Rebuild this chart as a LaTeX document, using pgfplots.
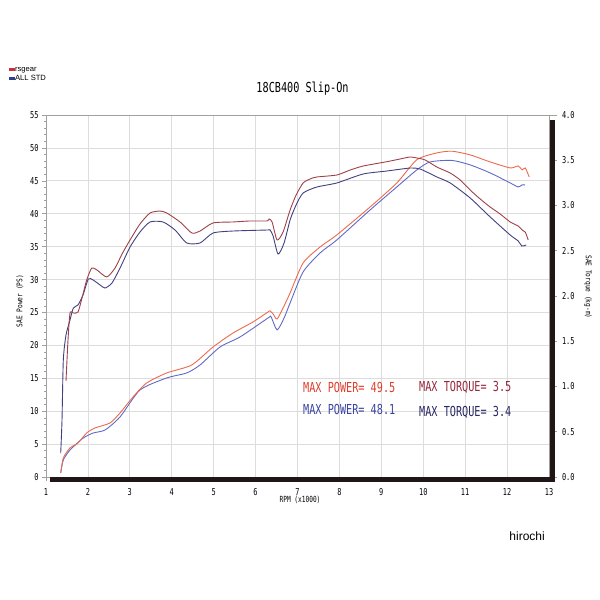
\documentclass[border=0pt]{standalone}
\usepackage{pgfplots}
\pgfplotsset{compat=1.18}
\usepackage{fontspec}
\setmainfont{Liberation Sans}
\newfontfamily\jmono{DejaVu Sans Mono}
\usepackage{graphicx}
\definecolor{rsP}{RGB}{236,106,76}
\definecolor{rsT}{RGB}{158,64,74}
\definecolor{stP}{RGB}{96,106,198}
\definecolor{stT}{RGB}{66,64,128}
\definecolor{gridc}{RGB}{220,220,220}
\definecolor{framec}{RGB}{160,160,160}
\definecolor{shadowc}{RGB}{32,22,22}
\definecolor{legR}{RGB}{205,45,60}
\definecolor{legB}{RGB}{45,60,150}
\definecolor{txtRP}{RGB}{222,62,44}
\definecolor{txtRT}{RGB}{150,40,60}
\definecolor{txtBP}{RGB}{58,68,160}
\definecolor{txtBT}{RGB}{40,40,100}
\newcommand\tl[1]{\scalebox{0.95}[1.3]{#1}}
\newcommand\bigtxt[1]{\scalebox{1}[1.35]{\jmono\fontsize{10.2}{12}\selectfont #1}}

\pgfplotstableread{
rpm T
1.477 1.061
1.525 1.514
1.573 1.812
1.652 1.812
1.764 1.823
1.859 1.978
1.971 2.177
2.091 2.309
2.217 2.287
2.449 2.210
2.647 2.309
2.814 2.464
3.005 2.619
3.243 2.796
3.482 2.917
3.721 2.939
3.881 2.917
4.198 2.818
4.477 2.696
4.675 2.718
4.986 2.807
5.463 2.818
5.869 2.829
6.274 2.829
6.322 2.851
6.394 2.818
6.513 2.619
6.656 2.707
6.823 2.950
6.967 3.116
7.134 3.249
7.301 3.293
7.461 3.315
7.938 3.337
8.256 3.392
8.566 3.436
9.131 3.484
9.449 3.514
9.687 3.536
9.847 3.525
10.045 3.503
10.325 3.425
10.642 3.359
10.881 3.282
11.119 3.171
11.358 3.072
11.597 2.983
11.835 2.906
12.074 2.818
12.265 2.773
12.360 2.729
12.432 2.707
12.504 2.619
}\rsTorque

\pgfplotstableread{
rpm T
1.351 0.265
1.382 0.630
1.413 1.293
1.477 1.569
1.573 1.735
1.652 1.867
1.764 1.901
1.883 2.011
2.010 2.188
2.122 2.177
2.289 2.122
2.408 2.088
2.575 2.144
2.766 2.309
3.005 2.541
3.243 2.707
3.482 2.818
3.792 2.818
4.079 2.729
4.358 2.586
4.675 2.586
4.986 2.696
5.463 2.718
6.274 2.729
6.346 2.729
6.418 2.663
6.537 2.464
6.680 2.586
6.823 2.840
6.967 3.006
7.134 3.138
7.461 3.204
7.938 3.249
8.566 3.348
9.131 3.381
9.687 3.414
9.926 3.403
10.325 3.315
10.642 3.249
11.119 3.083
11.597 2.873
12.074 2.674
12.265 2.608
12.353 2.552
12.456 2.564
}\stdTorque

\pgfplotstableread{
rpm P
1.351 0.61
1.413 2.89
1.573 4.41
1.764 5.17
1.971 6.69
2.169 7.45
2.527 8.21
2.766 9.73
3.076 12.16
3.403 14.29
3.881 15.81
4.477 17.02
4.986 19.76
5.463 21.88
5.940 23.56
6.298 25.08
6.346 25.23
6.418 24.77
6.513 24.01
6.656 25.68
6.823 27.96
7.134 32.52
7.539 34.95
7.938 36.78
8.733 41.03
9.370 44.68
9.847 48.20
10.325 49.24
10.683 49.50
11.119 48.94
11.597 47.87
12.074 46.96
12.265 47.26
12.360 46.66
12.432 46.96
12.528 45.59
}\rsPower

\pgfplotstableread{
rpm P
1.351 0.61
1.413 2.58
1.573 4.10
1.890 5.93
2.129 6.69
2.408 7.14
2.766 9.12
3.243 13.22
3.881 15.05
4.358 15.81
4.675 17.02
5.153 19.76
5.630 21.28
6.298 24.16
6.370 24.32
6.513 22.34
6.680 24.16
6.823 26.44
7.134 31.16
7.539 34.04
7.938 36.02
8.733 40.58
9.370 44.07
9.847 46.66
10.165 47.87
10.683 48.10
11.119 47.42
11.597 46.20
12.074 44.68
12.265 44.07
12.360 44.38
12.432 44.38
}\stdPower

\begin{document}
\begin{tikzpicture}[x=1pt,y=1pt]
\path[use as bounding box] (0,0) rectangle (600,600);
\begin{axis}[
  at={(46pt,123pt)}, anchor=south west,
  scale only axis, width=503pt, height=362pt,
  xmin=1, xmax=13, ymin=0, ymax=55,
  xtick={1,...,13}, ytick={0,5,...,55},
  xtick pos=bottom, ytick pos=left,
  minor x tick num=4, minor y tick num=4,
  grid=major, major grid style={gridc, line width=0.8pt},
  axis line style={framec, line width=0.6pt},
  tick style={framec, line width=0.5pt},
  tick align=outside, major tick length=4pt, minor tick length=2pt,
  /pgf/number format/assume math mode=true,
  ticklabel style={font=\jmono\fontsize{7.3}{8}\selectfont, black},
  xticklabel={\tl{\pgfmathprintnumber{\tick}}},
  yticklabel={\tl{\pgfmathprintnumber{\tick}}},
  xticklabel style={yshift=-4pt},
  xlabel={\tl{RPM (x1000)}},
  xlabel style={font=\jmono\fontsize{6.5}{8}\selectfont, at={(axis description cs:0.505,-0.0635)}, anchor=center},
  ylabel={\scalebox{0.95}[1.2]{SAE Power (PS)}},
  ylabel style={font=\jmono\fontsize{6.5}{8}\selectfont, at={(axis description cs:-0.052,0.486)}, anchor=center},
  title={\bigtxt{18CB400 Slip-On}},
  title style={at={(axis description cs:0.51,1.055)}, anchor=center},
  legend style={at={(axis description cs:-0.0735,1.138)}, anchor=north west, draw=none, fill=none,
    font=\fontsize{7.6}{9}\selectfont, row sep=1pt, inner sep=0pt,
    nodes={inner sep=0.5pt, text height=5.6pt, text depth=1.4pt}},
  legend cell align=left,
  legend image code/.code={\fill (0pt,-0.9pt) rectangle (2.0pt,1.1pt); \fill (3.0pt,-0.9pt) rectangle (5.0pt,1.1pt);},
]
\addlegendimage{legR}
\addlegendimage{legB}
\addplot[stP, line width=0.9pt, smooth, tension=0.4, forget plot] table[x=rpm, y=P] {\stdPower};
\addplot[rsP, line width=0.9pt, smooth, tension=0.4, forget plot] table[x=rpm, y=P] {\rsPower};
\legend{rsgear, ALL STD}
\end{axis}
\begin{axis}[
  at={(46pt,123pt)}, anchor=south west,
  scale only axis, width=503pt, height=362pt,
  xmin=1, xmax=13, ymin=0, ymax=4,
  axis x line=none, axis y line*=right,
  ytick={0,0.5,...,4}, minor y tick num=4,
  axis line style={framec, line width=0.6pt},
  tick style={framec, line width=0.5pt},
  tick align=outside, major tick length=8pt, minor tick length=2pt,
  /pgf/number format/assume math mode=true,
  ticklabel style={font=\jmono\fontsize{7.3}{8}\selectfont, black},
  yticklabel={\tl{\pgfmathprintnumber[fixed,fixed zerofill,precision=1]{\tick}}},
  yticklabel style={xshift=1.5pt},
  ylabel={\scalebox{0.95}[1.2]{SAE Torque (kg-m)}},
  ylabel style={font=\jmono\fontsize{6.5}{8}\selectfont, at={(axis description cs:1.0775,0.525)}, anchor=center, rotate=180},
]
\addplot[stT, line width=0.9pt, smooth, tension=0.4] table[x=rpm, y=T] {\stdTorque};
\addplot[rsT, line width=0.9pt, smooth, tension=0.4] table[x=rpm, y=T] {\rsTorque};
\end{axis}
\fill[shadowc] (50,117.5) rectangle (555,122.6);
\fill[shadowc] (549.8,117.5) rectangle (555,480);
\node[anchor=west, text=txtRP, inner sep=0pt] at (303,213) {\bigtxt{MAX POWER= 49.5}};
\node[anchor=west, text=txtRT, inner sep=0pt] at (419,213) {\bigtxt{MAX TORQUE= 3.5}};
\node[anchor=west, text=txtBP, inner sep=0pt] at (303,191) {\bigtxt{MAX POWER= 48.1}};
\node[anchor=west, text=txtBT, inner sep=0pt] at (419,188) {\bigtxt{MAX TORQUE= 3.4}};
\node[anchor=east, inner sep=0pt, font=\fontsize{12}{14}\selectfont] at (545,64) {hirochi};
\end{tikzpicture}
\end{document}
